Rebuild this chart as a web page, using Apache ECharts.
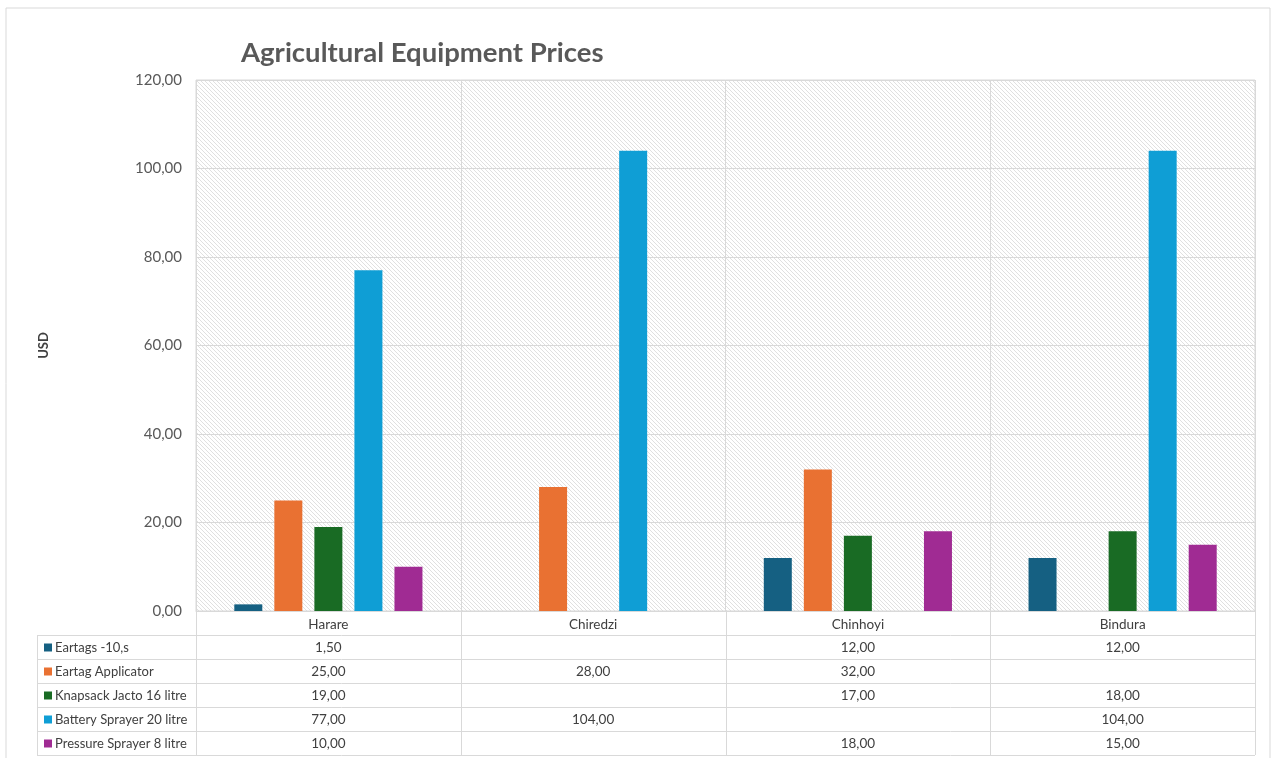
<!DOCTYPE html>
<html>
<head>
<meta charset="utf-8">
<script src="https://cdn.jsdelivr.net/npm/echarts@6/dist/echarts.min.js"></script>
<style>
  html, body { margin: 0; padding: 0; background: #fff; }
  #chart { width: 1274px; height: 758px; }
</style>
</head>
<body>
<div id="chart"></div>
<script>
// data
const towns = ['Harare', 'Chiredzi', 'Chinhoyi', 'Bindura'];
const seriesNames = ['Eartags -10,s', 'Eartag Applicator', 'Knapsack Jacto 16 litre', 'Battery Sprayer 20 litre', 'Pressure Sprayer 8 litre'];
const eartags = [1.5, null, 12, 12];
const applicator = [25, 28, 32, null];
const knapsack = [19, null, 17, 18];
const battery = [77, 104, null, 104];
const pressure = [10, null, 18, 15];
const colors = ['#156082', '#E97132', '#196B24', '#0F9ED5', '#A02B93'];

const allValues = [eartags, applicator, knapsack, battery, pressure];

function fmt(v) {
    return v == null ? '' : v.toFixed(2).replace('.', ',');
}

// hatched plot background
const pat = document.createElement('canvas');
pat.width = 4; pat.height = 4;
const pc = pat.getContext('2d');
pc.fillStyle = '#ffffff';
pc.fillRect(0, 0, 4, 4);
pc.strokeStyle = '#e0e0e0';
pc.lineWidth = 1;
pc.beginPath();
pc.moveTo(-1, -1); pc.lineTo(5, 5);
pc.moveTo(-1, 3); pc.lineTo(1, 5);
pc.moveTo(3, -1); pc.lineTo(5, 1);
pc.stroke();

const W = 1274, H = 758;
const plotL = 196, plotR = 1255, plotT = 80, plotB = 611;
const tableL = 37, rowH = 24;
const colW = (plotR - plotL) / towns.length;
const lineCol = '#d9d9d9';
const txtCol = '#404040';
const fontFam = 'Lato, "Open Sans", sans-serif';

// data table under the chart
const graphics = [];
graphics.push({
    type: 'rect', shape: { x: 6, y: 8, width: 1264, height: 760 },
    style: { fill: 'none', stroke: '#d9d9d9', lineWidth: 1 }, silent: true
});
const tableBottom = plotB + rowH * (seriesNames.length + 1);
// horizontal lines
for (let r = 1; r <= seriesNames.length + 1; r++) {
    const y = plotB + r * rowH + 0.5;
    graphics.push({ type: 'line', shape: { x1: tableL, y1: y, x2: plotR, y2: y }, style: { stroke: lineCol, lineWidth: 1 }, silent: true });
}
// vertical lines
graphics.push({ type: 'line', shape: { x1: tableL + 0.5, y1: plotB + rowH, x2: tableL + 0.5, y2: tableBottom }, style: { stroke: lineCol }, silent: true });
for (let c = 0; c <= towns.length; c++) {
    const x = Math.round(plotL + c * colW) + 0.5;
    graphics.push({ type: 'line', shape: { x1: x, y1: plotB, x2: x, y2: tableBottom }, style: { stroke: lineCol }, silent: true });
}
seriesNames.forEach(function (name, i) {
    const cy = plotB + rowH * (i + 1) + rowH / 2 + 0.5;
    graphics.push({ type: 'rect', shape: { x: 44, y: cy - 4, width: 8, height: 8 }, style: { fill: colors[i] }, silent: true });
    graphics.push({ type: 'text', x: 55, y: cy, style: { text: name, fill: txtCol, font: '13px ' + fontFam, verticalAlign: 'middle' }, silent: true });
    allValues[i].forEach(function (v, c) {
        graphics.push({
            type: 'text', x: plotL + c * colW + colW / 2, y: cy,
            style: { text: fmt(v), fill: txtCol, font: '13.5px ' + fontFam, align: 'center', verticalAlign: 'middle' }, silent: true
        });
    });
});

const chart = echarts.init(document.getElementById('chart'));

chart.setOption({
    animation: false,
    title: {
        text: 'Agricultural Equipment Prices',
        left: 236, top: 34,
        textStyle: { color: '#595959', fontSize: 27.5, fontWeight: 'bold', fontFamily: fontFam }
    },
    grid: {
        left: plotL, right: W - plotR, top: plotT, bottom: H - plotB,
        show: true,
        backgroundColor: { image: pat, repeat: 'repeat' },
        borderColor: lineCol, borderWidth: 1
    },
    xAxis: {
        type: 'category',
        data: towns,
        axisTick: { show: false },
        axisLine: { lineStyle: { color: lineCol } },
        axisLabel: { color: txtCol, fontSize: 13.5, fontFamily: fontFam, margin: 7 },
        splitLine: { show: true, lineStyle: { color: lineCol } }
    },
    yAxis: {
        type: 'value',
        min: 0, max: 120, interval: 20,
        name: 'USD',
        nameLocation: 'middle',
        nameGap: 146,
        nameRotate: 90,
        nameTextStyle: { color: txtCol, fontWeight: 'bold', fontSize: 13, fontFamily: fontFam },
        axisLabel: { color: '#595959', fontSize: 15, fontFamily: fontFam, formatter: fmt, margin: 14 },
        axisLine: { show: false },
        splitLine: { lineStyle: { color: lineCol } }
    },
    series: seriesNames.map(function (name, i) {
        return {
            name: name,
            type: 'bar',
            data: allValues[i],
            barWidth: 28,
            barGap: '43%',
            itemStyle: { color: colors[i] }
        };
    }),
    graphic: graphics
});
</script>
</body>
</html>
